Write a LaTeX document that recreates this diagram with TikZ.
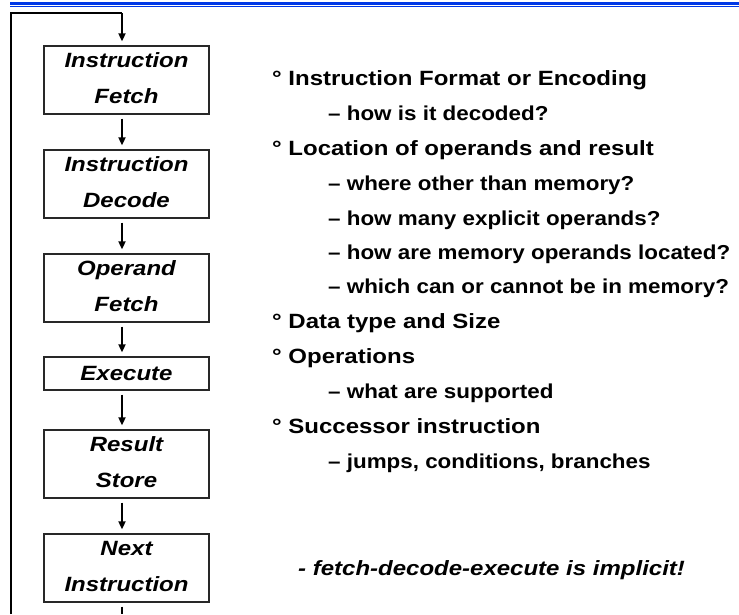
\documentclass[tikz,border=0pt]{standalone}
\usepackage{fontspec}
\setmainfont{Liberation Sans}
\usetikzlibrary{arrows.meta}
\definecolor{barblue}{RGB}{0,56,230}
\definecolor{boxline}{RGB}{40,40,40}
\newcommand{\sq}[1]{\scalebox{1}[0.86]{#1}}
\newcommand{\sqb}[1]{\scalebox{1}[0.9]{#1}}
\newcommand{\lowstrut}{\rule[-4pt]{0pt}{4pt}}
\tikzset{
  stagebox/.style={draw=boxline, line width=1.3pt, minimum width=165pt, align=center,
    font=\fontsize{24}{36}\selectfont\bfseries\itshape, inner sep=0pt},
  tall/.style={minimum height=68pt},
  short/.style={minimum height=33pt},
  flow/.style={line width=1.8pt, -{Triangle[length=8pt,width=7pt]}, shorten <=4pt, shorten >=4pt},
  item/.style={anchor=base west, inner sep=0pt, font=\fontsize{24}{28}\selectfont\bfseries},
  subitem/.style={anchor=base west, inner sep=0pt, font=\fontsize{22.4}{26}\selectfont\bfseries},
}
\begin{document}
\begin{tikzpicture}[x=1pt,y=-1pt]
\useasboundingbox[fill=white] (0,0) rectangle (739,614);
% top double rule
\draw[barblue, line width=2.8pt] (10,3.3) -- (739,3.3);
\draw[barblue, line width=1pt] (10,6.3) -- (739,6.3);

% stages
\node[stagebox,tall] (b1) at (126.5,80) {\sq{Instruction}\\\sq{Fetch}\lowstrut};
\node[stagebox,tall] (b2) at (126.5,184) {\sq{Instruction}\\\sq{Decode}\lowstrut};
\node[stagebox,tall] (b3) at (126.5,288) {\sq{Operand}\\\sq{Fetch}\lowstrut};
\node[stagebox,short] (b4) at (126.5,373.5) {\sq{Execute}};
\node[stagebox,tall] (b5) at (126.5,464) {\sq{Result}\\\sq{Store}\lowstrut};
\node[stagebox,tall] (b6) at (126.5,568) {\sq{Next}\\\sq{Instruction}\lowstrut};

% connectors
\foreach \a/\b in {b1/b2,b2/b3,b3/b4,b4/b5,b5/b6}
  \draw[flow] ([xshift=-4.5pt]\a.south) -- ([xshift=-4.5pt]\b.north);
\coordinate (bl) at (11,614);
\coordinate (tr) at (122,13);
\coordinate (bot) at (122,614);
\draw[line width=2.6pt] (bl) |- (tr);
\draw[line width=1.8pt, -{Triangle[length=8pt,width=7pt]}, shorten >=4pt] (tr) -- ([xshift=-4.5pt]b1.north);
\draw[line width=1.8pt, shorten <=4pt] ([xshift=-4.5pt]b6.south) -- (bot);

% list
\node[item] (t1) at (272,85) {\sq{° Instruction Format or Encoding}};
\node[subitem] (t2) at (328,120) {\sqb{– how is it decoded?}};
\node[item] (t3) at (272,155) {\sq{° Location of operands and result}};
\node[subitem] (t4) at (328,190) {\sqb{– where other than memory?}};
\node[subitem] (t5) at (328,225) {\sqb{– how many explicit operands?}};
\node[subitem] (t6) at (328,259) {\sqb{– how are memory operands located?}};
\node[subitem] (t7) at (328,293) {\sqb{– which can or cannot be in memory?}};
\node[item] (t8) at (272,328) {\sq{° Data type and Size}};
\node[item] (t9) at (272,363) {\sq{° Operations}};
\node[subitem] (t10) at (328,398) {\sqb{– what are supported}};
\node[item] (t11) at (272,433) {\sq{° Successor instruction}};
\node[subitem] (t12) at (328,468) {\sqb{– jumps, conditions, branches}};
\node[item, font=\fontsize{24}{28}\selectfont\bfseries\itshape] (t13) at (298,575) {\sq{- fetch-decode-execute is implicit!}};
\end{tikzpicture}
\end{document}
